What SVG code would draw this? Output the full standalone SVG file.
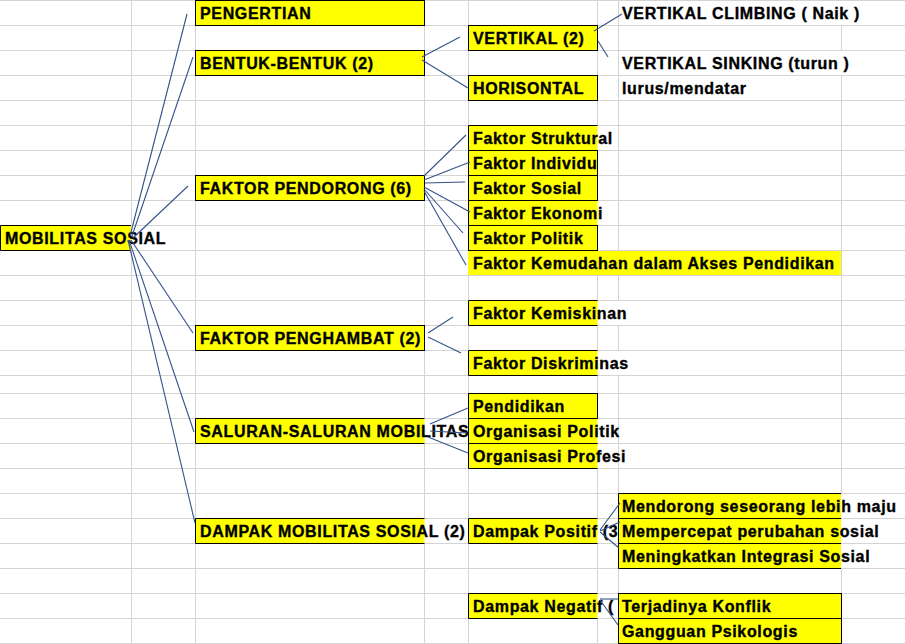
<svg xmlns="http://www.w3.org/2000/svg" width="905" height="644" viewBox="0 0 905 644">
<style>
.grid{stroke:#d4d4d4;stroke-width:1;fill:none}
.box{fill:#ffff00;stroke:#000;stroke-width:1}
.fill{fill:#ffff00}
.edge{fill:none;stroke:#000;stroke-width:1}
.t{font-family:"Liberation Sans",Arial,sans-serif;font-weight:bold;font-size:16px;letter-spacing:0.65px;fill:#000;stroke:#000;stroke-width:0.35px}
.c{stroke:#34528a;stroke-width:1.1;fill:none}
</style>
<defs>
<clipPath id="clipSaluran"><rect x="0" y="418" width="468" height="26"/></clipPath>
<clipPath id="clipDampak"><rect x="0" y="518" width="468" height="26"/></clipPath>
<clipPath id="clipPositif"><rect x="0" y="518" width="618" height="26"/></clipPath>
<clipPath id="clipNegatif"><rect x="0" y="593" width="618" height="26"/></clipPath>
</defs>
<rect x="0" y="0" width="905" height="644" fill="#ffffff"/>
<g id="grid">
<path class="grid" d="M0 0.5H905M0 25.5H905M0 50.5H905M0 75.5H905M0 100.5H905M0 125.5H905M0 150.5H905M0 175.5H905M0 200.5H905M0 225.5H905M0 250.5H905M0 275.5H905M0 300.5H905M0 325.5H905M0 350.5H905M0 375.5H905M0 393.5H905M0 418.5H905M0 443.5H905M0 468.5H905M0 493.5H905M0 518.5H905M0 543.5H905M0 568.5H905M0 593.5H905M0 618.5H905M0 643.5H905"/>
<path class="grid" d="M131.5 0V225M131.5 250V644M195.5 0V644M424.5 0V418M424.5 443V518M424.5 543V644M468.5 0V644M597.5 0V125M597.5 150V200M597.5 225V250M597.5 275V300M597.5 325V350M597.5 375V418M597.5 468V518M597.5 543V593M597.5 618V644M618.5 0V250M618.5 275V300M618.5 325V350M618.5 375V644M841.5 25V50M841.5 75V493M841.5 568V644"/>
</g>

<g id="n-mobilitas">
<rect class="fill" x="0" y="226" width="131" height="24"/>
<path class="edge" d="M131 225.5H0.5V250.5H131"/>
<text class="t" x="5" y="243.5">MOBILITAS SOSIAL</text>
</g>

<g id="n-pengertian">
<rect class="box" x="195.5" y="0.5" width="229" height="25"/>
<text class="t" x="200" y="18.5">PENGERTIAN</text>
</g>
<g id="n-bentuk">
<rect class="box" x="195.5" y="50.5" width="229" height="25"/>
<text class="t" x="200" y="68.5">BENTUK-BENTUK (2)</text>
</g>
<g id="n-vertikal">
<rect class="box" x="468.5" y="25.5" width="129" height="25"/>
<text class="t" x="473" y="43.5">VERTIKAL (2)</text>
</g>
<g id="n-horisontal">
<rect class="box" x="468.5" y="75.5" width="129" height="25"/>
<text class="t" x="473" y="93.5">HORISONTAL</text>
</g>
<g id="n-climbing"><text class="t" x="622" y="18.5">VERTIKAL CLIMBING ( Naik )</text></g>
<g id="n-sinking"><text class="t" x="622" y="68.5">VERTIKAL SINKING (turun )</text></g>
<g id="n-lurus"><text class="t" x="622" y="93.5">lurus/mendatar</text></g>

<g id="n-pendorong">
<rect class="box" x="195.5" y="175.5" width="229" height="25"/>
<text class="t" x="200" y="193.5">FAKTOR PENDORONG (6)</text>
</g>
<g id="n-struktural">
<rect class="fill" x="468.5" y="125.5" width="129" height="25"/>
<path class="edge" d="M597.5 125.5H468.5V150.5H597.5"/>
<text class="t" x="473" y="143.5">Faktor Struktural</text>
</g>
<g id="n-individu">
<rect class="box" x="468.5" y="150.5" width="129" height="25"/>
<text class="t" x="473" y="168.5">Faktor Individu</text>
</g>
<g id="n-sosial">
<rect class="box" x="468.5" y="175.5" width="129" height="25"/>
<text class="t" x="473" y="193.5">Faktor Sosial</text>
</g>
<g id="n-ekonomi">
<rect class="fill" x="468.5" y="200.5" width="129" height="25"/>
<path class="edge" d="M597.5 200.5H468.5V225.5H597.5"/>
<text class="t" x="473" y="218.5">Faktor Ekonomi</text>
</g>
<g id="n-politik">
<rect class="box" x="468.5" y="225.5" width="129" height="25"/>
<text class="t" x="473" y="243.5">Faktor Politik</text>
</g>
<g id="n-kemudahan">
<rect class="fill" x="468" y="251" width="373" height="24"/>
<text class="t" x="473" y="268.5">Faktor Kemudahan dalam Akses Pendidikan</text>
</g>

<g id="n-penghambat">
<rect class="box" x="195.5" y="325.5" width="229" height="25"/>
<text class="t" x="200" y="343.5">FAKTOR PENGHAMBAT (2)</text>
</g>
<g id="n-kemiskinan">
<rect class="fill" x="468.5" y="300.5" width="129" height="25"/>
<path class="edge" d="M597.5 300.5H468.5V325.5H597.5"/>
<text class="t" x="473" y="318.5">Faktor Kemiskinan</text>
</g>
<g id="n-diskriminas">
<rect class="fill" x="468.5" y="350.5" width="129" height="25"/>
<path class="edge" d="M597.5 350.5H468.5V375.5H597.5"/>
<text class="t" x="473" y="368.5">Faktor Diskriminas</text>
</g>

<g id="n-saluran">
<rect class="fill" x="195.5" y="418.5" width="229" height="25"/>
<path class="edge" d="M424.5 418.5H195.5V443.5H424.5"/>
<text class="t" x="200" y="436.5" clip-path="url(#clipSaluran)">SALURAN-SALURAN MOBILITAS</text>
</g>
<g id="n-pendidikan">
<rect class="box" x="468.5" y="393.5" width="129" height="25"/>
<text class="t" x="473" y="411.5">Pendidikan</text>
</g>
<g id="n-orgpolitik">
<rect class="fill" x="468.5" y="418.5" width="129" height="25"/>
<path class="edge" d="M597.5 418.5H468.5V443.5H597.5"/>
<text class="t" x="473" y="436.5">Organisasi Politik</text>
</g>
<g id="n-orgprofesi">
<rect class="fill" x="468.5" y="443.5" width="129" height="25"/>
<path class="edge" d="M597.5 443.5H468.5V468.5H597.5"/>
<text class="t" x="473" y="461.5">Organisasi Profesi</text>
</g>

<g id="n-dampak">
<rect class="fill" x="195.5" y="518.5" width="229" height="25"/>
<path class="edge" d="M424.5 518.5H195.5V543.5H424.5"/>
<text class="t" x="200" y="536.5" clip-path="url(#clipDampak)">DAMPAK MOBILITAS SOSIAL (2)</text>
</g>
<g id="n-positif">
<rect class="fill" x="468.5" y="518.5" width="129" height="25"/>
<path class="edge" d="M597.5 518.5H468.5V543.5H597.5"/>
<text class="t" x="473" y="536.5" clip-path="url(#clipPositif)">Dampak Positif (3</text>
</g>
<g id="n-negatif">
<rect class="fill" x="468.5" y="593.5" width="129" height="25"/>
<path class="edge" d="M597.5 593.5H468.5V618.5H597.5"/>
<text class="t" x="473" y="611.5" clip-path="url(#clipNegatif)">Dampak Negatif (</text>
</g>
<g id="n-mendorong">
<rect class="fill" x="618.5" y="493.5" width="222.5" height="25"/>
<path class="edge" d="M841 493.5H618.5V518.5H841"/>
<text class="t" x="622" y="511.5">Mendorong seseorang lebih maju</text>
</g>
<g id="n-mempercepat">
<rect class="fill" x="618.5" y="518.5" width="222.5" height="25"/>
<path class="edge" d="M841 518.5H618.5V543.5H841"/>
<text class="t" x="622" y="536.5">Mempercepat perubahan sosial</text>
</g>
<g id="n-meningkatkan">
<rect class="fill" x="618.5" y="543.5" width="222.5" height="25"/>
<path class="edge" d="M841 543.5H618.5V568.5H841"/>
<text class="t" x="622" y="561.5">Meningkatkan Integrasi Sosial</text>
</g>
<g id="n-konflik">
<rect class="box" x="618.5" y="593.5" width="223" height="25"/>
<text class="t" x="622" y="611.5">Terjadinya Konflik</text>
</g>
<g id="n-gangguan">
<rect class="box" x="618.5" y="618.5" width="223" height="25"/>
<text class="t" x="622" y="636.5">Gangguan Psikologis</text>
</g>

<g id="connectors" class="c">
<line x1="130" y1="236" x2="187" y2="14"/>
<line x1="132" y1="236" x2="193" y2="57"/>
<line x1="133" y1="238" x2="188" y2="186"/>
<line x1="131" y1="240" x2="193" y2="333"/>
<line x1="129" y1="240" x2="194" y2="432"/>
<line x1="128" y1="240" x2="195" y2="523"/>
<line x1="422" y1="57" x2="460" y2="37"/>
<line x1="422" y1="60" x2="468" y2="88"/>
<line x1="594" y1="31" x2="622" y2="14"/>
<line x1="598" y1="41" x2="608" y2="57"/>
<line x1="424" y1="176" x2="466" y2="135"/>
<line x1="424" y1="180" x2="470" y2="162"/>
<line x1="425" y1="183" x2="465" y2="182"/>
<line x1="424" y1="187" x2="470" y2="212"/>
<line x1="424" y1="189" x2="463" y2="233"/>
<line x1="424" y1="191" x2="466" y2="265"/>
<line x1="428" y1="333" x2="453" y2="317"/>
<line x1="428" y1="337" x2="461" y2="353"/>
<line x1="430" y1="424" x2="468" y2="408"/>
<line x1="430" y1="431" x2="467" y2="433"/>
<line x1="428" y1="437" x2="468" y2="453"/>
<line x1="600" y1="530" x2="620" y2="503"/>
<line x1="600" y1="531" x2="620" y2="522"/>
<line x1="600" y1="532" x2="619" y2="548"/>
<line x1="600" y1="599" x2="618" y2="599"/>
<line x1="600" y1="600" x2="618" y2="625"/>
</g>
</svg>
